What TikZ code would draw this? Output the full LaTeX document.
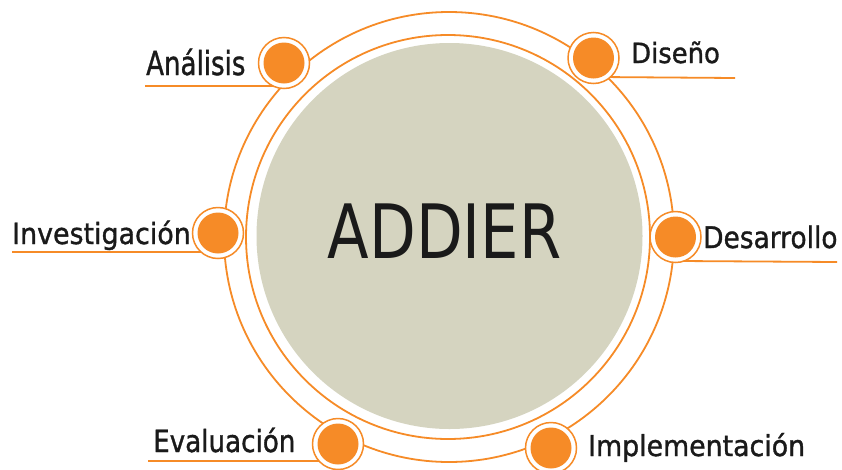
\documentclass[tikz,border=0pt]{standalone}
\usepackage{fontspec}
\setmainfont{DejaVu Sans}
\newfontfamily\lblfont[FakeBold=1.2]{DejaVu Sans}
\definecolor{org}{RGB}{246,139,39}
\definecolor{grayd}{RGB}{213,212,192}
\definecolor{ink}{RGB}{26,26,26}
\newcommand{\lbltext}[3]{\scalebox{#2}[1]{\fontsize{#1}{#1}\selectfont #3}}
\begin{document}
\begin{tikzpicture}[x=1pt,y=-1pt,
  ringline/.style={circle,draw=org,line width=1.8pt,inner sep=0pt},
  bul/.style={circle,draw=org,line width=1.5pt,fill=white,minimum size=51pt,inner sep=0pt},
  dotc/.style={circle,fill=org,minimum size=41pt,inner sep=0pt},
  txt/.style={anchor=base west,inner sep=0pt,text=ink,font=\lblfont},
  uline/.style={draw=org,line width=1.8pt}]
\useasboundingbox (0,0) rectangle (842,469);
\fill[white] (0,0) rectangle (842,469);
% core
\node[circle,fill=grayd,minimum size=386pt,inner sep=0pt] (core) at (449.5,236) {};
\node[ringline,minimum size=404pt] (inner) at (448,237) {};
\node[ringline,minimum size=450pt] (outer) at (449,237) {};
\node[anchor=base,inner sep=0pt,text=ink] (title) at (444.5,258) {\lbltext{75}{0.81}{ADDIER}};
% underline coordinates
\coordinate (uA1) at (145,86);   \coordinate (uA2) at (280,86);
\coordinate (uD1) at (600,77);   \coordinate (uD2) at (735,78);
\coordinate (uI1) at (12,252);   \coordinate (uI2) at (205,252);
\coordinate (uR1) at (680,261);  \coordinate (uR2) at (837,262);
\coordinate (uE1) at (148,461);  \coordinate (uE2) at (325,461);
\draw[uline] (uA1) -- (uA2);
\draw[uline] (uD1) -- (uD2);
\draw[uline] (uI1) -- (uI2);
\draw[uline] (uR1) -- (uR2);
\draw[uline] (uE1) -- (uE2);
% bullets
\node[bul] (bA) at (284,63) {};   \node[dotc] (dA) at (bA) {};
\node[bul] (bD) at (593.5,58) {}; \node[dotc] (dD) at (bD) {};
\node[bul] (bI) at (218,233) {};  \node[dotc] (dI) at (bI) {};
\node[bul] (bR) at (675.5,237) {};\node[dotc] (dR) at (bR) {};
\node[bul] (bE) at (338,444) {};  \node[dotc] (dE) at (bE) {};
\node[bul] (bM) at (551,448) {};  \node[dotc] (dM) at (bM) {};
% labels
\node[txt] (tA) at (146,75)  {\lbltext{33}{0.79}{Análisis}};
\node[txt] (tD) at (631,63)  {\lbltext{27.8}{0.93}{Diseño}};
\node[txt] (tI) at (12,244)  {\lbltext{29.2}{0.92}{Investigación}};
\node[txt] (tR) at (703,248) {\lbltext{29.7}{0.89}{Desarrollo}};
\node[txt] (tE) at (153,452) {\lbltext{30.6}{0.855}{Evaluación}};
\node[txt] (tM) at (588,456) {\lbltext{28.8}{0.93}{Implementación}};
\end{tikzpicture}
\end{document}
